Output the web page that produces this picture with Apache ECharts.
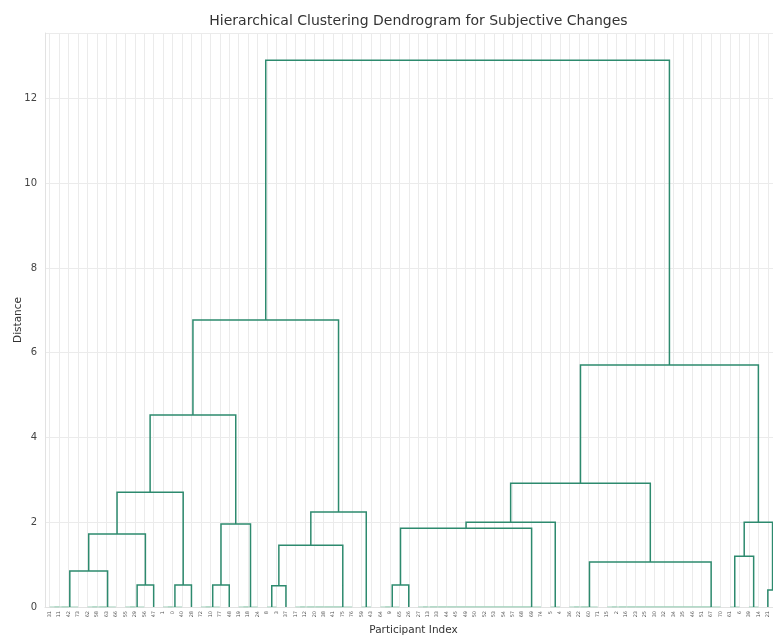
<!DOCTYPE html>
<html><head><meta charset="utf-8">
<script src="https://cdn.jsdelivr.net/npm/echarts@6/dist/echarts.min.js"></script>
<style>html,body{margin:0;padding:0;background:#fff}#c{width:773px;height:635px}</style>
</head><body><div id="c"></div>
<script>
// Leaf labels in dendrogram order (the last one falls outside the visible area)
const leafLabels = [31,11,42,73,62,58,63,66,55,29,56,47,1,0,40,28,72,10,77,48,19,18,24,8,3,37,17,12,20,38,41,75,76,59,43,64,9,65,26,27,13,33,44,45,49,50,52,53,54,57,68,69,74,5,4,36,22,60,71,15,2,16,23,25,30,32,34,35,46,51,67,70,61,6,39,14,21,7];

// Groups of leaves (by position) joined at distance 0: [name, firstLeaf, lastLeaf]
const zeroGroups = [
  ['D1',0,3],['D2',4,7],['E1',8,10],['F1',12,14],['H1',16,18],['I',20,22],
  ['L1',23,24],['M',26,32],['N',33,34],['R1',35,37],['S',39,52],['T',53,54],
  ['V',55,58],['W',59,71],['Y1',72,73],['Y2',74,75]
];

// Merges: [name, left, right, distance]  (numbers = leaf positions)
const merges = [
  ['D','D1','D2',0.85],['E','E1',11,0.52],['C','D','E',1.72],['F','F1',15,0.52],['B','C','F',2.71],
  ['H','H1',19,0.52],['G','H','I',1.96],['A','B','G',4.53],['L','L1',25,0.50],['K','L','M',1.46],
  ['J','K','N',2.24],['Lft','A','J',6.77],['R','R1',38,0.52],['Q','R','S',1.86],['P','Q','T',2.00],
  ['U','V','W',1.06],['O','P','U',2.92],['Y','Y1','Y2',1.20],['Z',76,77,0.40],['X','Y','Z',2.00],
  ['Rgt','O','X',5.71],['Root','Lft','Rgt',12.90]
];

const yTickStep = 2;

// ---- build link geometry (dendrogram layout: leaf i at i+0.5, parent at midpoint) ----
const nodes = {};
function node(ref){ return typeof ref === 'number' ? {x: ref + 0.5, h: 0} : nodes[ref]; }
const zeroLinks = [], links = [];
zeroGroups.forEach(([name, a, b]) => {
  let cur = {x: a + 0.5, h: 0};
  for (let k = a + 1; k <= b; k++) {
    const r = {x: k + 0.5, h: 0};
    zeroLinks.push([[cur.x, 0], [cur.x, 0], [r.x, 0], [r.x, 0]]);
    cur = {x: (cur.x + r.x) / 2, h: 0};
  }
  nodes[name] = cur;
});
merges.forEach(([name, l, r, h]) => {
  const L = node(l), R = node(r);
  links.push([[L.x, L.h], [L.x, h], [R.x, h], [R.x, R.h]]);
  nodes[name] = {x: (L.x + R.x) / 2, h: h};
});
const rootH = merges[merges.length - 1][3];

// category ticks: half-steps so that labels sit at leaf centres
const cats = [];
for (let k = 0; k <= leafLabels.length * 2; k++) cats.push(k % 2 === 1 ? String(leafLabels[(k - 1) / 2]) : '');

const chart = echarts.init(document.getElementById('c'), null, {renderer: 'canvas'});
const font = 'DejaVu Sans';
chart.setOption({
  animation: false,
  backgroundColor: '#ffffff',
  title: {
    text: 'Hierarchical Clustering Dendrogram for Subjective Changes',
    left: 413.5, top: 9, textAlign: 'center',
    textStyle: {fontFamily: font, fontSize: 14, fontWeight: 'normal', color: '#333'}
  },
  grid: {left: 45, top: 33, bottom: 28, right: -9, containLabel: false, outerBoundsMode: 'none'},
  xAxis: [
    {
      type: 'category', data: cats, boundaryGap: false,
      axisLine: {show: true, lineStyle: {color: '#e2e2e2', width: 1}},
      axisTick: {show: false},
      axisLabel: {interval: (i) => i % 2 === 1, rotate: 90, fontSize: 5, color: '#555', margin: 4, fontFamily: font},
      splitLine: {show: true, interval: (i) => i % 2 === 1, lineStyle: {color: '#ebebeb', width: 1}},
      name: 'Participant Index', nameLocation: 'middle', nameGap: 18, nameMoveOverlap: false,
      nameTextStyle: {fontFamily: font, fontSize: 10.5, color: '#333'}
    },
    {type: 'value', min: 0, max: leafLabels.length, show: false}
  ],
  yAxis: {
    type: 'value', min: 0, max: rootH * 1.05, interval: yTickStep,
    axisLine: {show: true, lineStyle: {color: '#e2e2e2'}},
    axisTick: {show: false},
    axisLabel: {fontFamily: font, fontSize: 10, color: '#444', margin: 8, showMaxLabel: false},
    splitLine: {show: true, lineStyle: {color: '#ebebeb', width: 1}},
    name: 'Distance', nameLocation: 'middle', nameGap: 21, nameMoveOverlap: false,
    nameTextStyle: {fontFamily: font, fontSize: 10.5, color: '#333'}
  },
  series: [
    {
      type: 'lines', coordinateSystem: 'cartesian2d', xAxisIndex: 1, yAxisIndex: 0,
      polyline: true, silent: true, z: 2,
      lineStyle: {color: '#9ccfb8', width: 1.2, opacity: 1},
      data: zeroLinks.map(c => ({coords: c}))
    },
    {
      type: 'lines', coordinateSystem: 'cartesian2d', xAxisIndex: 1, yAxisIndex: 0,
      polyline: true, silent: true, z: 3,
      lineStyle: {color: '#2d8a6e', width: 1.5, opacity: 1},
      data: links.map(c => ({coords: c}))
    }
  ]
});
</script></body></html>
